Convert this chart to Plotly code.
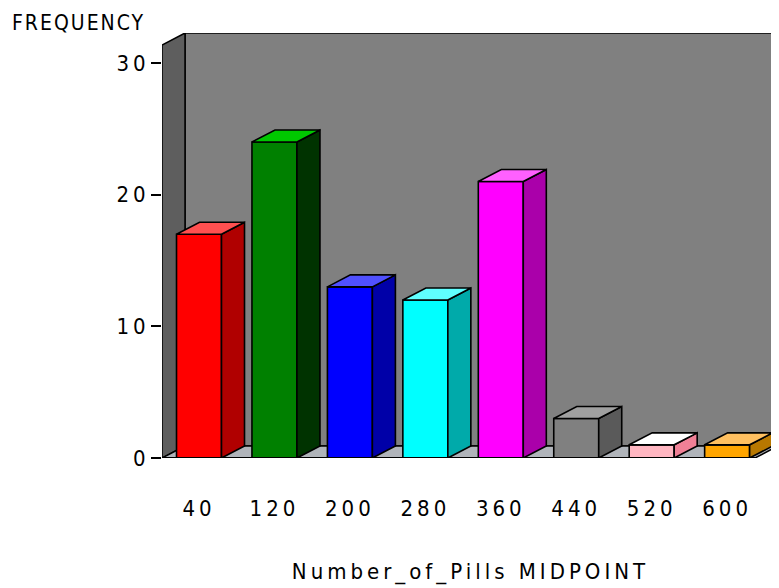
import plotly.graph_objects as go

# ---- data ----
midpoints = [40, 120, 200, 280, 360, 440, 520, 600]
tick_labels = ["40", "120", "200", "280", "360", "440", "520", "600"]
frequency = [17, 24, 13, 12, 21, 3, 1, 1]
y_tick_values = [0, 10, 20, 30]
y_tick_labels = ["0", "10", "20", "30"]

front_colors = ["#FF0000", "#008000", "#0000FF", "#00FFFF", "#FF00FF", "#808080", "#FFB6C1", "#FFA500"]
side_colors = ["#B00000", "#003300", "#0000A8", "#00AAAA", "#AA00AA", "#5A5A5A", "#F08096", "#B87800"]
top_colors = ["#FF5050", "#00C800", "#5050FF", "#60FFFF", "#FF60FF", "#A0A0A0", "#FFFFFF", "#FFC060"]

# ---- geometry / style ----
# page body has an 8px margin, so the figure is drawn 8px smaller
W, H = 771, 580
ML, MT, MB, MR = 154, 25, 130, 0
X0, X1 = 0.76, 655.0
Y0, Y1 = 0.0, 32.28
BAR_W = 47.7
DX, DY = 24.4, 0.91
FLOOR_RIGHT = 629.6
FONT = "Liberation Sans Narrow, DejaVu Sans Condensed, Liberation Sans, sans-serif"
PW = W - ML - MR
PH = H - MT - MB


def spaced(t, s=4):
    return '<span style="letter-spacing:%spx">%s</span>' % (s, t)


fig = go.Figure()

# front faces
fig.add_trace(go.Bar(
    x=midpoints, y=frequency, width=BAR_W,
    marker=dict(color=front_colors, line=dict(color="black", width=1.6)),
    hoverinfo="skip", showlegend=False,
))

# side and top faces
for m, v, sc, tc in zip(midpoints, frequency, side_colors, top_colors):
    xr = m + BAR_W / 2
    xl = m - BAR_W / 2
    fig.add_trace(go.Scatter(
        x=[xr, xr + DX, xr + DX, xr, xr], y=[0, DY, v + DY, v, 0],
        fill="toself", fillcolor=sc, mode="lines",
        line=dict(color="black", width=1.6), hoverinfo="skip", showlegend=False,
    ))
    fig.add_trace(go.Scatter(
        x=[xl, xl + DX, xr + DX, xr, xl], y=[v, v + DY, v + DY, v, v],
        fill="toself", fillcolor=tc, mode="lines",
        line=dict(color="black", width=1.6), hoverinfo="skip", showlegend=False,
    ))

shapes = [
    # back wall
    dict(type="path", xref="x", yref="y", layer="below",
         path=f"M{X0+DX},{DY} L{X0+DX},{Y1} L{X1},{Y1} L{X1},{DY} Z",
         fillcolor="#808080", line=dict(color="black", width=1.5)),
    # left wall
    dict(type="path", xref="x", yref="y", layer="below",
         path=f"M{X0},{Y0} L{X0},{Y1-DY} L{X0+DX},{Y1} L{X0+DX},{DY} Z",
         fillcolor="#5E5E5E", line=dict(color="black", width=1.5)),
    # floor
    dict(type="path", xref="x", yref="y", layer="below",
         path=f"M{X0},{Y0} L{X0+DX},{DY} L{FLOOR_RIGHT+DX},{DY} L{FLOOR_RIGHT},{Y0} Z",
         fillcolor="#B0B4BA", line=dict(color="black", width=1.5)),
    # front floor line
    dict(type="line", xref="x", yref="y", layer="above",
         x0=X0, x1=FLOOR_RIGHT, y0=Y0, y1=Y0, line=dict(color="black", width=2)),
]

fig.update_layout(
    width=W, height=H,
    margin=dict(l=ML, r=MR, t=MT, b=MB, pad=0),
    paper_bgcolor="white", plot_bgcolor="white",
    shapes=shapes,
    showlegend=False,
    font=dict(family=FONT, color="black", size=22),
    xaxis=dict(
        range=[X0, X1], showgrid=False, zeroline=False, showline=False,
        tickmode="array", tickvals=midpoints,
        ticktext=[spaced(t) for t in tick_labels],
        ticks="", ticklabelstandoff=35,
        tickfont=dict(family=FONT, size=22, color="black"),
        title=dict(text=spaced("Number_of_Pills MIDPOINT"), standoff=43,
                   font=dict(family=FONT, size=22, color="black")),
        fixedrange=True,
    ),
    yaxis=dict(
        range=[Y0, Y1], showgrid=False, zeroline=False, showline=False,
        tickmode="array", tickvals=y_tick_values,
        ticktext=[spaced(t) for t in y_tick_labels],
        ticks="outside", ticklen=10, tickwidth=1.5, tickcolor="black",
        ticklabelstandoff=-3,
        tickfont=dict(family=FONT, size=22, color="black"),
        fixedrange=True,
    ),
    annotations=[dict(
        text=spaced("FREQUENCY", 2), xref="paper", yref="paper",
        x=(2 - ML) / PW, y=1 + (MT - 1) / PH,
        xanchor="left", yanchor="top", showarrow=False,
        font=dict(family=FONT, size=21, color="black"),
    )],
)

fig.write_html("out.html")
